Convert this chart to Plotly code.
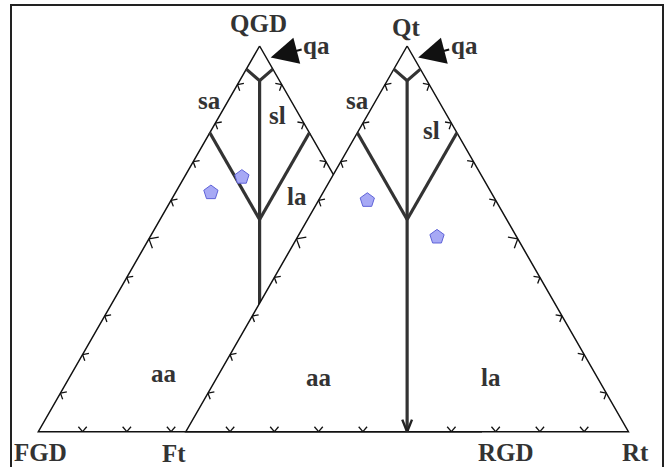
import math
import plotly.graph_objects as go

# ---------------- data ----------------
left_apexes = ["QGD", "FGD", "RGD"]          # top, bottom-left, bottom-right
right_apexes = ["Qt", "Ft", "Rt"]

# sample compositions (percent)  Q / F / R
left_Q = [62, 66]
left_F = [30, 21]
left_R = [8, 13]
right_Q = [60, 50.5]
right_F = [29, 18]
right_R = [11, 31.5]

# field boundaries (Q, F, R) percent
qa_field = [(94, 6, 0), (91, 4.5, 4.5), (94, 0, 6)]
center_line = [(91, 4.5, 4.5), (0, 50, 50)]
sa_branch = [(77.5, 22.5, 0), (55, 22.5, 22.5)]
sl_branch = [(77.5, 0, 22.5), (55, 22.5, 22.5)]

tick_values = [10, 20, 30, 40, 50, 60, 70, 80, 90]
major_tick = 50

# field labels (name, Q, F, R)
field_labels = [("sa", 86, 18.4, -4.4), ("sl", 82, 5, 13), ("la", 61, 11, 28),
                ("aa", 15, 64, 21)]
field_labels_right = [("sa", 86, 18.2, -4.2), ("sl", 78, 5.6, 16.4),
                      ("la", 14, 24, 62), ("aa", 14, 63, 23)]

# ---------------- geometry helpers ----------------
W, H = 670, 467
XR = [-0.08653, 1.42725]
YR = [-0.09152, 1.11926]
PX = W / (XR[1] - XR[0])   # pixels per x unit
PY = H / (YR[1] - YR[0])   # pixels per y unit
SHIFT = 1 / 3              # right diagram offset (in side lengths)


def tern(q, f, r, off=0.0):
    s = q + f + r
    q, r = q / s, r / s
    return off + r + q / 2, q


def chevron(x, y, ang_deg, arm, half=40):
    """return xs, ys for a chevron whose tip is at (x,y) pointing to ang_deg"""
    xs, ys = [], []
    for sgn in (-1, 1):
        a = math.radians(ang_deg + 180 + sgn * half)
        xs += [x + arm * math.cos(a) / PX, x, None]
        ys += [y + arm * math.sin(a) / PY, y, None]
    return xs, ys


left_norm = math.degrees(math.atan2(0.5 * PX, -1 * PY))
right_norm = math.degrees(math.atan2(0.5 * PX, 1 * PY))


def diagram(off):
    traces = []
    # edges
    vx, vy = zip(*[tern(100, 0, 0, off), tern(0, 100, 0, off), tern(0, 0, 100, off),
                   tern(100, 0, 0, off)])
    traces.append(go.Scatter(x=list(vx), y=list(vy), mode="lines",
                             line=dict(color="#111", width=1.5), hoverinfo="skip"))
    # ticks
    tx, ty = [], []
    for t in tick_values:
        arm = 10 if t == major_tick else 6.5
        for (q, f, r), ang in (((t, 100 - t, 0), left_norm),
                               ((t, 0, 100 - t), right_norm),
                               ((0, 100 - t, t), -90)):
            if q == 0 and t == major_tick and off > 0:
                continue
            x, y = tern(q, f, r, off)
            cx, cy = chevron(x, y, ang, arm)
            tx += cx
            ty += cy
    traces.append(go.Scatter(x=tx, y=ty, mode="lines",
                             line=dict(color="#111", width=1.3), hoverinfo="skip"))
    # field boundaries
    fx, fy = [], []
    for seg in (qa_field, center_line, sa_branch, sl_branch):
        for p in seg:
            x, y = tern(*p, off)
            fx.append(x)
            fy.append(y)
        fx.append(None)
        fy.append(None)
    traces.append(go.Scatter(x=fx, y=fy, mode="lines",
                             line=dict(color="#333", width=3.2), hoverinfo="skip"))
    return traces


fig = go.Figure()
for tr in diagram(0):
    fig.add_trace(tr)

# right diagram sits on top of the left one
wx, wy = zip(*[tern(100, 0, 0, SHIFT), tern(0, 100, 0, SHIFT), tern(0, 0, 100, SHIFT)])
fig.add_trace(go.Scatter(x=list(wx), y=list(wy), fill="toself", fillcolor="white",
                         mode="none", hoverinfo="skip"))
for tr in diagram(SHIFT):
    fig.add_trace(tr)

# arrow head at base of right centre line
ax0, ay0 = tern(0, 50, 50, SHIFT)
cx, cy = chevron(ax0, ay0, -90, 13, half=22)
fig.add_trace(go.Scatter(x=cx, y=cy, mode="lines", line=dict(color="#222", width=2.4),
                         hoverinfo="skip"))

# samples
sx = [tern(q, f, r)[0] for q, f, r in zip(left_Q, left_F, left_R)] + \
     [tern(q, f, r, SHIFT)[0] for q, f, r in zip(right_Q, right_F, right_R)]
sy = [tern(q, f, r)[1] for q, f, r in zip(left_Q, left_F, left_R)] + \
     [tern(q, f, r, SHIFT)[1] for q, f, r in zip(right_Q, right_F, right_R)]
fig.add_trace(go.Scatter(x=sx, y=sy, mode="markers",
                         marker=dict(symbol="pentagon", size=15, color="#a7a9f5",
                                     line=dict(color="#5f63d8", width=1)),
                         hoverinfo="skip"))

font = dict(family="Liberation Serif, Times New Roman, serif", size=25, color="#333")
ann = []


def label(text, x, y, xs=0, ys=0):
    ann.append(dict(x=x, y=y, text="<b>%s</b>" % text, showarrow=False, font=font,
                    xshift=xs, yshift=ys))


# vertex labels
x, y = tern(100, 0, 0); label(left_apexes[0], x, y, -1.6, 22.5)
x, y = tern(0, 100, 0); label(left_apexes[1], x, y, 1.7, -21)
x, y = tern(0, 0, 100); label(left_apexes[2], x, y, 25, -21)
x, y = tern(100, 0, 0, SHIFT); label(right_apexes[0], x, y, -1, 18.5)
x, y = tern(0, 100, 0, SHIFT); label(right_apexes[1], x, y, -11.7, -22)
x, y = tern(0, 0, 100, SHIFT); label(right_apexes[2], x, y, 6.7, -21)

for name, q, f, r in field_labels:
    x, y = tern(q, f, r); label(name, x, y)
for name, q, f, r in field_labels_right:
    x, y = tern(q, f, r, SHIFT); label(name, x, y)

for off in (0, SHIFT):
    x, y = tern(97, -1, 4, off)
    ann.append(dict(x=x, y=y, text="<b>qa</b>", font=font, showarrow=True,
                    arrowhead=2, arrowsize=2.7, arrowwidth=2, arrowcolor="#111",
                    ax=46, ay=-12))

fig.update_layout(
    width=W, height=H, margin=dict(l=0, r=0, t=0, b=0),
    paper_bgcolor="white", plot_bgcolor="white", showlegend=False,
    xaxis=dict(range=XR, visible=False, fixedrange=True),
    yaxis=dict(range=YR, visible=False, fixedrange=True),
    annotations=ann,
    shapes=[dict(type="rect", xref="paper", yref="paper", x0=11 / W, x1=663 / W,
                 y0=-0.05, y1=1 - 5 / H, line=dict(color="#222", width=2))],
)

fig.write_html("out.html", config={"displayModeBar": False},
               post_script="document.body.style.margin='0px';"
               "document.body.style.overflow='hidden';")
